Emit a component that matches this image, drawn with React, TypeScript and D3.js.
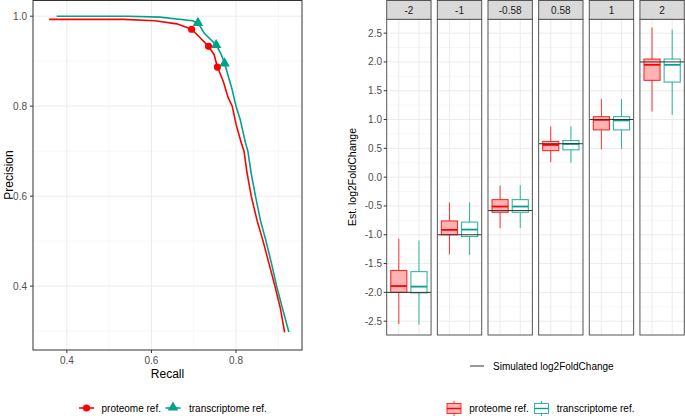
import * as d3 from 'd3';

// precision-recall curves
const protRecall = [0.358, 0.535, 0.608, 0.66, 0.695, 0.715, 0.735, 0.748, 0.756, 0.77, 0.781, 0.791, 0.8, 0.812, 0.819, 0.825, 0.836, 0.85, 0.864, 0.878, 0.892, 0.905, 0.915];
const protPrecision = [0.993, 0.993, 0.99, 0.983, 0.971, 0.952, 0.933, 0.915, 0.887, 0.855, 0.82, 0.8, 0.76, 0.72, 0.7, 0.658, 0.6, 0.545, 0.5, 0.45, 0.4, 0.35, 0.297];
const transRecall = [0.376, 0.545, 0.62, 0.697, 0.71, 0.725, 0.753, 0.765, 0.773, 0.79, 0.8, 0.81, 0.822, 0.828, 0.836, 0.846, 0.858, 0.871, 0.884, 0.896, 0.91, 0.925];
const transPrecision = [1.0, 1.0, 0.998, 0.99, 0.985, 0.962, 0.936, 0.915, 0.895, 0.84, 0.8, 0.77, 0.72, 0.7, 0.65, 0.6, 0.545, 0.5, 0.45, 0.4, 0.35, 0.298];
const protMarkRecall = [0.695, 0.735, 0.756];
const protMarkPrecision = [0.971, 0.933, 0.887];
const transMarkRecall = [0.71, 0.753, 0.773];
const transMarkPrecision = [0.985, 0.936, 0.895];
const recallTicks = [0.4, 0.6, 0.8];
const recallMinor = [0.5, 0.7, 0.9];
const precisionTicks = [0.4, 0.6, 0.8, 1.0];
const precisionMinor = [0.3, 0.5, 0.7, 0.9];

// boxplots per simulated fold change
const folds = ['-2', '-1', '-0.58', '0.58', '1', '2'];
const trueLfc = [-2, -1, -0.58, 0.58, 1, 2];
const protLow = [-2.55, -1.34, -0.885, 0.26, 0.486, 1.14];
const protQ1 = [-2.0, -1.0, -0.61, 0.46, 0.82, 1.68];
const protMed = [-1.89, -0.915, -0.51, 0.56, 0.995, 1.95];
const protQ3 = [-1.62, -0.76, -0.39, 0.62, 1.05, 2.05];
const protHigh = [-1.07, -0.44, -0.146, 0.88, 1.355, 2.6];
const transLow = [-2.56, -1.35, -0.885, 0.25, 0.49, 1.08];
const transQ1 = [-2.01, -1.03, -0.61, 0.474, 0.82, 1.65];
const transMed = [-1.9, -0.91, -0.51, 0.578, 0.985, 1.95];
const transQ3 = [-1.64, -0.78, -0.39, 0.635, 1.05, 2.05];
const transHigh = [-1.1, -0.44, -0.14, 0.88, 1.355, 2.56];
const lfcTicks = [-2.5, -2.0, -1.5, -1.0, -0.5, 0.0, 0.5, 1.0, 1.5, 2.0, 2.5];

const RED = '#FF0000';
const TEAL = '#00A38A';
const FONT = 'Liberation Sans, Arial, sans-serif';

function PrCurve() {
  const x = d3.scaleLinear().domain([0.32, 0.956]).range([33, 302]);
  const y = d3.scaleLinear().domain([0.258, 1.036]).range([350, 0]);
  const line = d3
    .line<[number, number]>()
    .x((d) => x(d[0]))
    .y((d) => y(d[1]));
  const prot = protRecall.map((r, i) => [r, protPrecision[i]] as [number, number]);
  const trans = transRecall.map((r, i) => [r, transPrecision[i]] as [number, number]);
  const tri = d3.symbol(d3.symbolTriangle, 48)()!;
  return (
    <g fontFamily={FONT}>
      {/* grid */}
      {recallMinor.map((t) => (
        <line key={'xm' + t} x1={x(t)} x2={x(t)} y1={0} y2={350} stroke="#F2F2F2" strokeWidth={0.6} />
      ))}
      {precisionMinor.map((t) => (
        <line key={'ym' + t} x1={33} x2={302} y1={y(t)} y2={y(t)} stroke="#F2F2F2" strokeWidth={0.6} />
      ))}
      {recallTicks.map((t) => (
        <line key={'x' + t} x1={x(t)} x2={x(t)} y1={0} y2={350} stroke="#EBEBEB" strokeWidth={1} />
      ))}
      {precisionTicks.map((t) => (
        <line key={'y' + t} x1={33} x2={302} y1={y(t)} y2={y(t)} stroke="#EBEBEB" strokeWidth={1} />
      ))}
      <path d={line(trans)!} fill="none" stroke={TEAL} strokeWidth={1.6} />
      <path d={line(prot)!} fill="none" stroke={RED} strokeWidth={1.6} />
      {protMarkRecall.map((r, i) => (
        <circle key={'pm' + i} cx={x(r)} cy={y(protMarkPrecision[i])} r={3.6} fill={RED} />
      ))}
      {transMarkRecall.map((r, i) => (
        <path key={'tm' + i} d={tri} transform={`translate(${x(r)},${y(transMarkPrecision[i])})`} fill={TEAL} />
      ))}
      <rect x={33} y={0.5} width={269} height={349.5} fill="none" stroke="#333333" strokeWidth={1} />
      {/* ticks */}
      {recallTicks.map((t) => (
        <g key={'xt' + t}>
          <line x1={x(t)} x2={x(t)} y1={350} y2={353} stroke="#333333" />
          <text x={x(t)} y={364} fontSize={10} textAnchor="middle" fill="#4D4D4D">
            {t.toFixed(1)}
          </text>
        </g>
      ))}
      {precisionTicks.map((t) => (
        <g key={'yt' + t}>
          <line x1={30} x2={33} y1={y(t)} y2={y(t)} stroke="#333333" />
          <text x={27} y={y(t)} dy="0.35em" fontSize={10} textAnchor="end" fill="#4D4D4D">
            {t.toFixed(1)}
          </text>
        </g>
      ))}
      <text x={167.5} y={378} fontSize={12} textAnchor="middle">
        Recall
      </text>
      <text transform="translate(13,175) rotate(-90)" fontSize={12} textAnchor="middle">
        Precision
      </text>
      {/* legend */}
      <line x1={79} x2={94} y1={408} y2={408} stroke={RED} strokeWidth={1.6} />
      <circle cx={86.5} cy={408} r={3.6} fill={RED} />
      <text x={101.5} y={408} dy="0.35em" fontSize={10}>
        proteome ref.
      </text>
      <line x1={165.5} x2={180.5} y1={408} y2={408} stroke={TEAL} strokeWidth={1.6} />
      <path d={tri} transform="translate(173,407.5)" fill={TEAL} />
      <text x={189} y={408} dy="0.35em" fontSize={10}>
        transcriptome ref.
      </text>
    </g>
  );
}

type BoxProps = {
  cx: number;
  w: number;
  y: d3.ScaleLinear<number, number>;
  low: number;
  q1: number;
  med: number;
  q3: number;
  high: number;
  color: string;
  fill: string;
};

function Box({ cx, w, y, low, q1, med, q3, high, color, fill }: BoxProps) {
  return (
    <g>
      <line x1={cx} x2={cx} y1={y(high)} y2={y(q3)} stroke={color} strokeOpacity={0.8} />
      <line x1={cx} x2={cx} y1={y(q1)} y2={y(low)} stroke={color} strokeOpacity={0.8} />
      <rect
        x={cx - w / 2}
        y={y(q3)}
        width={w}
        height={y(q1) - y(q3)}
        fill={fill}
        stroke={color}
        strokeOpacity={0.8}
        strokeWidth={1.1}
      />
      <line x1={cx - w / 2} x2={cx + w / 2} y1={y(med)} y2={y(med)} stroke={color} strokeWidth={1.8} />
    </g>
  );
}

function FoldBoxes() {
  const bands = d3.scaleBand().domain(folds).range([386.7, 684.3]).paddingInner(0.124).paddingOuter(0);
  const bw = bands.bandwidth();
  const y = d3.scaleLinear().domain([-2.74, 2.74]).range([335, 19.3]);
  const inner = d3.scaleLinear().domain([0.4, 2.6]).range([0, bw]);
  const boxW = inner(1.4) - inner(0.6);
  const minor = lfcTicks.slice(0, -1).map((t) => t + 0.25);
  return (
    <g fontFamily={FONT}>
      {folds.map((f, i) => {
        const x0 = bands(f)!;
        return (
          <g key={f}>
            {minor.map((t) => (
              <line key={'m' + t} x1={x0} x2={x0 + bw} y1={y(t)} y2={y(t)} stroke="#F2F2F2" strokeWidth={0.6} />
            ))}
            {lfcTicks.map((t) => (
              <line key={'g' + t} x1={x0} x2={x0 + bw} y1={y(t)} y2={y(t)} stroke="#EBEBEB" />
            ))}
            {[1, 2].map((p) => (
              <line key={'v' + p} x1={x0 + inner(p)} x2={x0 + inner(p)} y1={19.3} y2={335} stroke="#EBEBEB" />
            ))}
            <Box
              cx={x0 + inner(1)}
              w={boxW}
              y={y}
              low={protLow[i]}
              q1={protQ1[i]}
              med={protMed[i]}
              q3={protQ3[i]}
              high={protHigh[i]}
              color={RED}
              fill="#FFB3B3"
            />
            <Box
              cx={x0 + inner(2)}
              w={boxW}
              y={y}
              low={transLow[i]}
              q1={transQ1[i]}
              med={transMed[i]}
              q3={transQ3[i]}
              high={transHigh[i]}
              color={TEAL}
              fill="#FFFFFF"
            />
            <line x1={x0} x2={x0 + bw} y1={y(trueLfc[i])} y2={y(trueLfc[i])} stroke="#333333" strokeWidth={1} />
            <rect x={x0} y={19.3} width={bw} height={335 - 19.3} fill="none" stroke="#555555" strokeWidth={1} />
            <rect x={x0} y={0.5} width={bw} height={18.8} fill="#D9D9D9" stroke="#555555" strokeWidth={1} />
            <text x={x0 + bw / 2} y={10} dy="0.35em" fontSize={10} textAnchor="middle" fill="#1A1A1A">
              {f}
            </text>
          </g>
        );
      })}
      {lfcTicks.map((t) => (
        <g key={'t' + t}>
          <line x1={383.7} x2={386.7} y1={y(t)} y2={y(t)} stroke="#333333" />
          <text x={382} y={y(t)} dy="0.35em" fontSize={10} textAnchor="end" fill="#4D4D4D">
            {t.toFixed(1)}
          </text>
        </g>
      ))}
      <text transform="translate(356,177) rotate(-90)" fontSize={10.5} textAnchor="middle">
        Est. log2FoldChange
      </text>
      {/* legends */}
      <line x1={470} x2={484} y1={366} y2={366} stroke="#333333" />
      <text x={493} y={366} dy="0.35em" fontSize={10}>
        Simulated log2FoldChange
      </text>
      <line x1={454} x2={454} y1={401} y2={416} stroke={RED} strokeOpacity={0.8} />
      <rect x={447} y={403.5} width={14} height={10} fill="#FFB3B3" stroke={RED} strokeOpacity={0.8} />
      <line x1={447} x2={461} y1={408.5} y2={408.5} stroke={RED} strokeWidth={1.4} />
      <text x={469.3} y={408.5} dy="0.35em" fontSize={10}>
        proteome ref.
      </text>
      <line x1={541.5} x2={541.5} y1={401} y2={416} stroke={TEAL} strokeOpacity={0.8} />
      <rect x={534.5} y={403.5} width={14} height={10} fill="#FFFFFF" stroke={TEAL} strokeOpacity={0.8} />
      <line x1={534.5} x2={548.5} y1={408.5} y2={408.5} stroke={TEAL} strokeWidth={1.4} />
      <text x={556.7} y={408.5} dy="0.35em" fontSize={10}>
        transcriptome ref.
      </text>
    </g>
  );
}

export default function App() {
  return (
    <svg width={685} height={416} style={{ position: 'absolute', left: 0, top: 0, background: '#FFFFFF' }}>
      <PrCurve />
      <FoldBoxes />
    </svg>
  );
}
